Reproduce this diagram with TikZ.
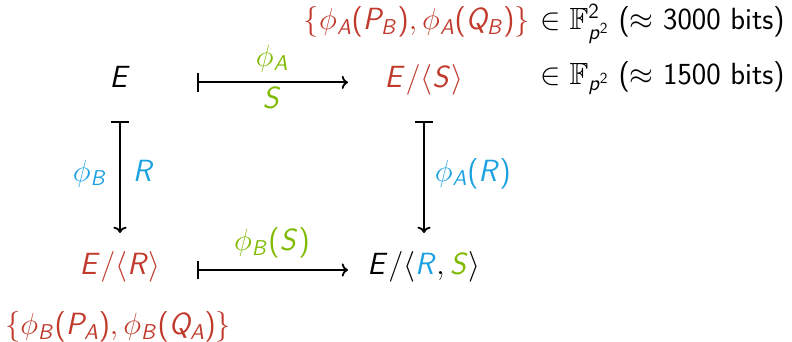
\documentclass[tikz,border=0pt]{standalone}
\usepackage{fix-cm}
\usepackage{amsmath,amssymb}
\usepackage{xcolor}
\usepackage{tikz}
\usetikzlibrary{arrows.meta, positioning}

% sans serif math letters, as on slides
\DeclareSymbolFont{sfletters}{OT1}{cmss}{m}{sl}
\DeclareSymbolFont{sfdigits}{OT1}{cmss}{m}{n}
\DeclareMathSymbol{A}{\mathalpha}{sfletters}{`A}
\DeclareMathSymbol{B}{\mathalpha}{sfletters}{`B}
\DeclareMathSymbol{E}{\mathalpha}{sfletters}{`E}
\DeclareMathSymbol{P}{\mathalpha}{sfletters}{`P}
\DeclareMathSymbol{Q}{\mathalpha}{sfletters}{`Q}
\DeclareMathSymbol{R}{\mathalpha}{sfletters}{`R}
\DeclareMathSymbol{S}{\mathalpha}{sfletters}{`S}
\DeclareMathSymbol{p}{\mathalpha}{sfletters}{`p}
\DeclareMathSymbol{2}{\mathalpha}{sfdigits}{`2}
\DeclareMathSymbol{(}{\mathopen}{sfdigits}{`(}
\DeclareMathSymbol{)}{\mathclose}{sfdigits}{`)}

\definecolor{keyred}{RGB}{192,57,43}
\definecolor{secgreen}{RGB}{128,186,0}
\definecolor{seccyan}{RGB}{27,161,226}

\tikzset{
    obj/.style={inner sep=0pt, text height=0.99em, text depth=0.3em},
    lbl/.style={obj, midway},
    mapsto/.style={{Bar[width=13pt]}-{To}, line width=1.3pt},
}

\begin{document}
\begin{tikzpicture}[font=\sffamily\fontsize{21.8}{26}\selectfont]
    \useasboundingbox (0,0) rectangle (19.8,8.55);

    % Curves
    \node[obj] (E) at (3,6.49) {$E$};
    \node[obj, text=keyred] (ES) at (10.6,6.49) {$E/\langle S\rangle$};
    \node[obj, text=keyred] (ER) at (3,1.8) {$E/\langle R\rangle$};
    \node[obj] (ERS) at (10.6,1.8) {$E/\langle \textcolor{seccyan}{R}, \textcolor{secgreen}{S}\rangle$};

    % Isogenies
    \draw[mapsto, shorten <=1.925cm, shorten >=1.9cm] (E.center) -- (ES.center)
        node[lbl, yshift=0.53cm, text=secgreen] (phiA) {$\phi_A$}
        node[lbl, yshift=-0.53cm, text=secgreen] (kerS) {$S$};
    \draw[mapsto, shorten <=1.925cm, shorten >=1.9cm] (ER.center) -- (ERS.center)
        node[lbl, yshift=0.6cm, text=secgreen] (phiBS) {$\phi_B(S)$};
    \draw[mapsto, shorten <=0.975cm, shorten >=0.925cm] (E.center) -- (ER.center)
        node[lbl, left=0.3cm, text=seccyan] (phiB) {$\phi_B$}
        node[lbl, right=0.3cm, text=seccyan] (kerR) {$R$};
    \draw[mapsto, shorten <=0.975cm, shorten >=0.925cm] (ES.center) -- (ERS.center)
        node[lbl, right=0.25cm, text=seccyan] (phiAR) {$\phi_A(R)$};

    % Public keys and sizes
    \node[obj, anchor=east] (bitsA) at (19.625,7.93) {$\in \mathbb{F}_{p^2}^2$ ($\approx$ 3000 bits)};
    \node[obj, text=keyred, left=0.25cm of bitsA] (ptsA) {$\{\phi_A(P_B), \phi_A(Q_B)\}$};
    \node[obj, anchor=east] (bitsB) at (19.625,6.56) {$\in \mathbb{F}_{p^2}$ ($\approx$ 1500 bits)};
    \node[obj, text=keyred, anchor=west] (ptsB) at (0.12,0.3) {$\{\phi_B(P_A), \phi_B(Q_A)\}$};
\end{tikzpicture}
\end{document}
